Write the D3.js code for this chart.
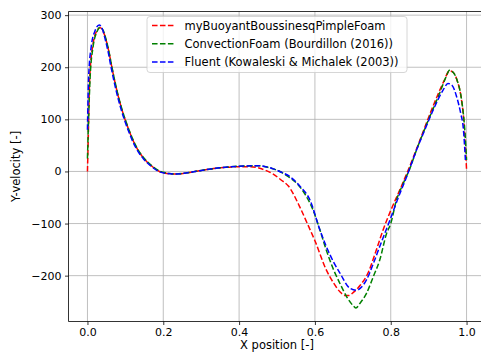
<!DOCTYPE html>
<html>
<head>
<meta charset="utf-8">
<script src="https://cdn.jsdelivr.net/npm/d3@7"></script>
<style>
  html, body { margin: 0; padding: 0; background: #fff; }
  svg { display: block; }
  text { font-family: "DejaVu Sans", sans-serif; }
</style>
</head>
<body>
<div id="chart"></div>
<script>
// ---- Data ----
const seriesNames = [
  "myBuoyantBoussinesqPimpleFoam",
  "ConvectionFoam (Bourdillon (2016))",
  "Fluent (Kowaleski & Michalek (2003))"
];
const seriesColors = ["#ff0000", "#008000", "#0000ff"];

const xRed = [0, 0.002, 0.006, 0.015, 0.025, 0.034, 0.042, 0.05, 0.057, 0.063, 0.07, 0.08, 0.09, 0.1, 0.11, 0.12, 0.134, 0.15, 0.17, 0.19, 0.21, 0.23, 0.26, 0.3, 0.35, 0.4, 0.43, 0.45, 0.47, 0.49, 0.51, 0.53, 0.56, 0.58, 0.6, 0.63, 0.65, 0.666, 0.68, 0.69, 0.70, 0.72, 0.74, 0.76, 0.78, 0.80, 0.82, 0.84, 0.86, 0.88, 0.90, 0.92, 0.94, 0.955, 0.965, 0.975, 0.985, 0.993, 1.0];
const yRed = [0, 60, 180, 246, 270, 276, 268, 250, 228, 205, 180, 148, 121, 98, 78, 60, 40, 24, 10, 0, -4, -5, -3, 2, 7, 9, 9, 7, 2, -5, -16, -28, -68, -100, -133, -189, -215, -231, -238, -238, -233, -218, -195, -155, -112, -75, -42, -8, 28, 66, 104, 140, 173, 193, 190, 175, 145, 95, 3];

const xGreen = [0, 0.003, 0.007, 0.015, 0.025, 0.033, 0.042, 0.05, 0.057, 0.063, 0.07, 0.08, 0.09, 0.1, 0.11, 0.12, 0.134, 0.15, 0.17, 0.19, 0.21, 0.23, 0.26, 0.3, 0.35, 0.4, 0.45, 0.47, 0.49, 0.51, 0.53, 0.555, 0.575, 0.595, 0.61, 0.63, 0.65, 0.666, 0.685, 0.70, 0.708, 0.72, 0.736, 0.755, 0.771, 0.789, 0.8, 0.815, 0.83, 0.85, 0.87, 0.9, 0.93, 0.945, 0.955, 0.965, 0.975, 0.987, 0.996, 1.0];
const yGreen = [25, 100, 180, 240, 268, 277, 270, 251, 229, 206, 181, 149, 122, 99, 79, 61, 41, 25, 11, 1, -3, -5, -3, 2, 7, 10, 11, 9, 5, -1, -10, -25, -45, -74, -105, -151, -190, -215, -242, -257, -262, -252, -234, -200, -170, -119, -100, -55, -28, 5, 45, 100, 152, 180, 194, 190, 175, 137, 73, 22];

const xBlue = [0, 0.003, 0.01, 0.02, 0.031, 0.04, 0.048, 0.055, 0.061, 0.068, 0.078, 0.088, 0.098, 0.108, 0.118, 0.132, 0.148, 0.168, 0.188, 0.21, 0.23, 0.26, 0.3, 0.35, 0.4, 0.45, 0.47, 0.49, 0.51, 0.534, 0.56, 0.587, 0.613, 0.63, 0.65, 0.666, 0.692, 0.71, 0.72, 0.736, 0.755, 0.771, 0.798, 0.82, 0.842, 0.868, 0.89, 0.912, 0.938, 0.951, 0.962, 0.974, 0.985, 0.991, 0.997];
const yBlue = [80, 180, 240, 270, 281, 272, 250, 228, 205, 180, 148, 121, 98, 78, 60, 40, 24, 10, 0, -4, -5, -3, 2, 7, 10, 11, 9, 5, -1, -10, -28, -55, -112, -144, -175, -195, -224, -228, -224, -208, -175, -144, -93, -50, -10, 41, 80, 118, 156, 169, 165, 143, 110, 86, 22];

const xTicks = [0, 0.2, 0.4, 0.6, 0.8, 1.0];
const yTicks = [-200, -100, 0, 100, 200, 300];
const xLabel = "X position [-]";
const yLabel = "Y-velocity [-]";

// ---- Layout ----
const W = 481, H = 360;
const pLeft = 68.5, pTop = 11.5, pBottom = 321.5;
const pRight = pLeft + 1.1 * 379.1;

const x = d3.scaleLinear().domain([-0.05, 1.05]).range([pLeft, pRight]);
const y = d3.scaleLinear().domain([-288, 307]).range([pBottom, pTop]);

const svg = d3.select("#chart").append("svg")
  .attr("width", W).attr("height", H);
svg.append("rect").attr("width", W).attr("height", H).attr("fill", "#fff");

// grid
const grid = svg.append("g");
grid.selectAll("line.gx").data(xTicks).join("line").attr("class", "gx")
  .attr("x1", d => x(d)).attr("x2", d => x(d))
  .attr("y1", pTop).attr("y2", pBottom)
  .attr("stroke", "#b0b0b0").attr("stroke-width", 0.8);
grid.selectAll("line.gy").data(yTicks).join("line").attr("class", "gy")
  .attr("x1", pLeft).attr("x2", pRight)
  .attr("y1", d => y(d)).attr("y2", d => y(d))
  .attr("stroke", "#b0b0b0").attr("stroke-width", 0.8);

// lines
svg.append("clipPath").attr("id", "clip")
  .append("rect").attr("x", pLeft).attr("y", pTop).attr("width", pRight - pLeft).attr("height", pBottom - pTop);

const series = [
  {xs: xRed, ys: yRed},
  {xs: xGreen, ys: yGreen},
  {xs: xBlue, ys: yBlue}
];
const line = d3.line().x(d => x(d[0])).y(d => y(d[1])).curve(d3.curveMonotoneX);
const lg = svg.append("g").attr("clip-path", "url(#clip)");
series.forEach((s, i) => {
  const pts = s.xs.map((v, j) => [v, s.ys[j]]);
  lg.append("path").datum(pts)
    .attr("d", line)
    .attr("fill", "none")
    .attr("stroke", seriesColors[i])
    .attr("stroke-width", 1.5)
    .attr("stroke-dasharray", "5.55,2.4");
});

// axes
const fmtX = d => d3.format(".1f")(d);
const fmtY = d => (d < 0 ? "\u2212" + Math.abs(d) : String(d));

const xAxis = svg.append("g").attr("transform", `translate(0,${pBottom})`)
  .call(d3.axisBottom(x).tickValues(xTicks).tickFormat(fmtX).tickSize(3.5).tickPadding(3.5));
const yAxis = svg.append("g").attr("transform", `translate(${pLeft},0)`)
  .call(d3.axisLeft(y).tickValues(yTicks).tickFormat(fmtY).tickSize(3.5).tickPadding(3.5));
[xAxis, yAxis].forEach(a => {
  a.select(".domain").remove();
  a.selectAll(".tick line").attr("stroke", "#000").attr("stroke-width", 0.8);
  a.selectAll(".tick text").attr("fill", "#000")
    .style("font-family", "'DejaVu Sans', sans-serif").style("font-size", "11px");
});

// spines
const sp = svg.append("g").attr("stroke", "#000").attr("stroke-width", 0.8).attr("fill", "none");
sp.append("line").attr("x1", pLeft).attr("x2", pLeft).attr("y1", pTop).attr("y2", pBottom);
sp.append("line").attr("x1", pLeft).attr("x2", pRight).attr("y1", pBottom).attr("y2", pBottom);
sp.append("line").attr("x1", pLeft).attr("x2", pRight).attr("y1", pTop).attr("y2", pTop);
sp.append("line").attr("x1", pRight).attr("x2", pRight).attr("y1", pTop).attr("y2", pBottom);

// axis labels
svg.append("text").attr("x", 277).attr("y", 348.5)
  .attr("text-anchor", "middle").attr("font-size", "11.5px").attr("fill", "#000")
  .text(xLabel);
svg.append("text")
  .attr("transform", `translate(20,${(pTop + pBottom) / 2}) rotate(-90)`)
  .attr("text-anchor", "middle").attr("font-size", "11.5px").attr("fill", "#000")
  .text(yLabel);

// legend
const leg = svg.append("g");
leg.append("rect").attr("x", 147).attr("y", 16.5).attr("width", 260).attr("height", 56)
  .attr("rx", 3).attr("fill", "#fff").attr("fill-opacity", 0.8)
  .attr("stroke", "#cccccc").attr("stroke-width", 0.8);
seriesNames.forEach((name, i) => {
  const yy = 25.5 + i * 18.2;
  leg.append("line").attr("x1", 152).attr("x2", 174).attr("y1", yy).attr("y2", yy)
    .attr("stroke", seriesColors[i]).attr("stroke-width", 1.5).attr("stroke-dasharray", "5.55,2.4");
  leg.append("text").attr("x", 184.5).attr("y", yy + 4)
    .attr("font-size", "11.5px").attr("fill", "#000").text(name);
});
</script>
</body>
</html>
